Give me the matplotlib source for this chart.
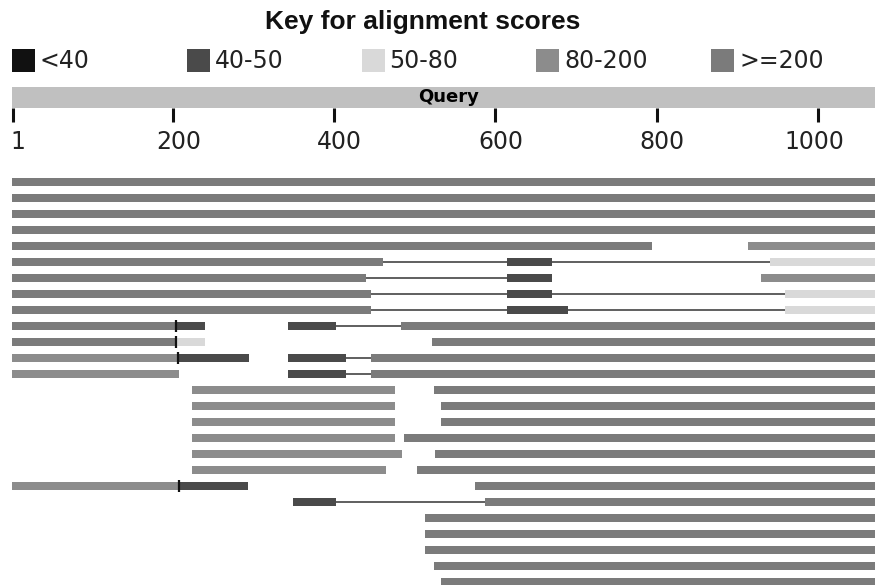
import matplotlib
matplotlib.use("Agg")
import matplotlib.pyplot as plt
from matplotlib.patches import Rectangle
from matplotlib.transforms import ScaledTranslation

# -----------------------------
# DATA
# -----------------------------

QUERY_LEN = 1071
tick_values = [1, 200, 400, 600, 800, 1000]

score_classes = ["<40", "40-50", "50-80", "80-200", ">=200"]
score_colors = ["#111111", "#4a4a4a", "#d9d9d9", "#8c8c8c", "#7b7b7b"]

# one entry per subject row: (start, end, score class)
hits = [
    [(1, 1071, ">=200")],
    [(1, 1071, ">=200")],
    [(1, 1071, ">=200")],
    [(1, 1071, ">=200")],
    [(1, 794, ">=200"), (914, 1071, "80-200")],
    [(1, 460, ">=200"), (615, 670, "40-50"), (942, 1071, "50-80")],
    [(1, 439, ">=200"), (615, 670, "40-50"), (931, 1071, "80-200")],
    [(1, 446, ">=200"), (615, 670, "40-50"), (960, 1071, "50-80")],
    [(1, 446, ">=200"), (615, 690, "40-50"), (960, 1071, "50-80")],
    [(1, 204, ">=200"), (204, 240, "40-50"), (344, 402, "40-50"), (484, 1071, ">=200")],
    [(1, 204, ">=200"), (204, 240, "50-80"), (522, 1071, ">=200")],
    [(1, 206, "80-200"), (206, 294, "40-50"), (344, 414, "40-50"), (447, 1071, ">=200")],
    [(1, 207, "80-200"), (344, 414, "40-50"), (447, 1071, ">=200")],
    [(224, 475, "80-200"), (525, 1071, ">=200")],
    [(224, 475, "80-200"), (534, 1071, ">=200")],
    [(224, 475, "80-200"), (534, 1071, ">=200")],
    [(224, 475, "80-200"), (488, 1071, ">=200")],
    [(224, 484, "80-200"), (526, 1071, ">=200")],
    [(224, 464, "80-200"), (504, 1071, ">=200")],
    [(1, 207, "80-200"), (207, 293, "40-50"), (576, 1071, ">=200")],
    [(350, 402, "40-50"), (588, 1071, ">=200")],
    [(513, 1071, ">=200")],
    [(513, 1071, ">=200")],
    [(513, 1071, ">=200")],
    [(525, 1071, ">=200")],
    [(534, 1071, ">=200")],
]

# thin lines joining HSPs of the same subject: (row, from, to)
links = [
    (5, 460, 615), (5, 670, 942),
    (6, 439, 615),
    (7, 446, 615), (7, 670, 960),
    (8, 446, 615), (8, 690, 960),
    (9, 402, 484),
    (11, 414, 447),
    (12, 414, 447),
    (20, 402, 588),
]

# short black marks: (row, position)
marks = [(9, 204), (10, 204), (11, 206), (19, 207)]

color_of = dict(zip(score_classes, score_colors))

W, H = 875, 585
fig = plt.figure(figsize=(W / 100, H / 100), dpi=100)

# -----------------------------
# KEY (title + legend)
# -----------------------------

key = fig.add_axes([0, 0, 1, 1])
key.set_xlim(0, W)
key.set_ylim(H, 0)
key.axis("off")

key.text(423, 22, "Key for alignment scores", ha="center", va="center",
         fontsize=19, fontweight="bold", family="Liberation Sans", color="#111111")

for i, (name, col) in enumerate(zip(score_classes, score_colors)):
    x0 = 12 + i * 174.8
    key.add_patch(Rectangle((x0, 49), 23, 23, facecolor=col, edgecolor="none"))
    key.text(x0 + 28, 61, name, ha="left", va="center", fontsize=17,
             family="DejaVu Sans", color="#222222")

# -----------------------------
# QUERY BAR
# -----------------------------

axq = fig.add_axes([12 / W, 1 - 108 / H, 863 / W, 21 / H])
axq.set_xlim(0, QUERY_LEN)
axq.set_ylim(0, 1)
axq.set_facecolor("#c0c0c0")
for s in axq.spines.values():
    s.set_visible(False)
axq.set_yticks([])
axq.set_xticks(tick_values)
axq.set_xticklabels([str(v) for v in tick_values])
axq.tick_params(axis="x", direction="out", length=10, width=2.2, color="#111111",
                labelsize=17, labelcolor="#222222", pad=5.5)
# labels sit a little right of their ticks, the last one a little left
for lab, v in zip(axq.get_xticklabels(), tick_values):
    dx = -0.03 if v == tick_values[-1] else 0.055
    lab.set_transform(lab.get_transform() + ScaledTranslation(dx, 0, fig.dpi_scale_trans))
axq.text(0.506, 0.5, "Query", transform=axq.transAxes, ha="center", va="center",
         fontsize=13, fontweight="bold", color="#000000")

# -----------------------------
# ALIGNMENT ROWS
# -----------------------------

ax = fig.add_axes([12 / W, 0, 863 / W, 1 - 174 / H])
ax.set_xlim(0, QUERY_LEN)
ax.set_ylim(25.1875, -0.5)
ax.axis("off")

for row, segs in enumerate(hits):
    for start, end, cls in segs:
        ax.barh(row, end - start + 1, left=start - 1, height=0.46,
                color=color_of[cls], edgecolor="none", zorder=2)

for row, a, b in links:
    ax.hlines(row, a, b - 1, color="#444444", linewidth=1.2, zorder=1)

for row, pos in marks:
    ax.vlines(pos, row - 0.35, row + 0.35, color="#111111", linewidth=1.6, zorder=3)

fig.savefig("out.png", dpi=100)
